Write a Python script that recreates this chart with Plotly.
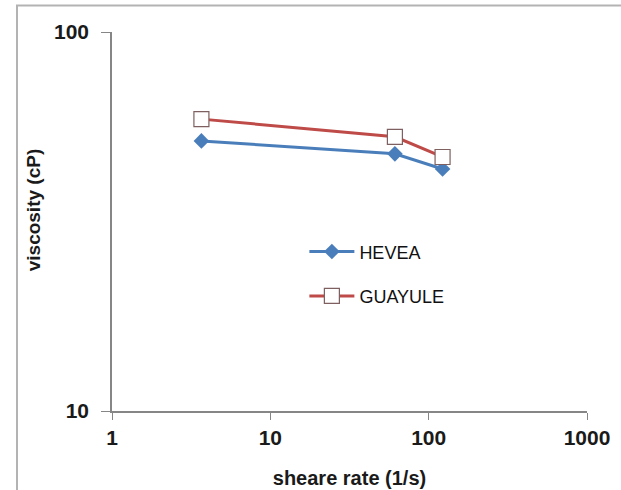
import plotly.graph_objects as go

shear_rate = [3.67, 61.2, 122.4]
hevea = [51.6, 47.7, 43.5]
guayule = [58.9, 52.9, 46.8]
x_ticks = [1, 10, 100, 1000]
y_ticks = [10, 100]

FONT = "Liberation Sans"

fig = go.Figure()
fig.add_trace(go.Scatter(
    x=shear_rate, y=hevea, name="HEVEA", mode="lines+markers", legendgroup="a",
    line=dict(color="#4a7ebb", width=3),
    marker=dict(symbol="diamond", size=12, color="#4a7ebb"),
))
fig.add_trace(go.Scatter(
    x=shear_rate, y=guayule, name="GUAYULE", mode="lines+markers", legendgroup="b",
    line=dict(color="#be4b48", width=3),
    marker=dict(symbol="square", size=15, color="white",
                line=dict(color="#7f6060", width=1.2)),
))

fig.update_layout(
    width=621, height=490,
    margin=dict(l=112, r=34, t=32, b=79),
    paper_bgcolor="white", plot_bgcolor="white",
    font=dict(family=FONT, color="#1a1a1a"),
    showlegend=True,
    legend=dict(x=0.405, y=0.362, xanchor="left", yanchor="middle",
                bgcolor="rgba(0,0,0,0)", font=dict(size=18, family=FONT, color="#111"),
                tracegroupgap=18, itemwidth=45),
    shapes=[dict(type="rect", xref="paper", yref="paper",
                 x0=-0.2, x1=1.2, y0=-0.3, y1=1.07,
                 line=dict(color="#b3b3b3", width=2))],
    annotations=[dict(text="<b>viscosity (cP)</b>", textangle=-90,
                      xref="paper", yref="paper", x=-0.166, y=0.53,
                      xanchor="center", yanchor="middle", showarrow=False,
                      font=dict(size=19, family=FONT, color="#1a1a1a"))],
)
fig.update_xaxes(
    type="log", range=[0, 3], tickvals=x_ticks, ticktext=[f"<b>{v}</b>" for v in x_ticks],
    showline=True, linecolor="#868686", linewidth=1.5, automargin=False,
    ticks="outside", ticklen=7, tickcolor="#868686",
    showgrid=False, zeroline=False,
    tickfont=dict(size=21, family=FONT, color="#1a1a1a"),
    title=dict(text="<b>sheare rate (1/s)</b>", font=dict(size=20, family=FONT), standoff=23),
)
fig.update_yaxes(
    type="log", range=[1, 2], tickvals=y_ticks, ticktext=[f"<b>{v}</b>" for v in y_ticks],
    showline=True, linecolor="#868686", linewidth=1.5, automargin=False,
    ticks="outside", ticklen=9, tickcolor="#868686", ticklabelstandoff=8,
    showgrid=True, gridcolor="#868686", gridwidth=1.5, zeroline=False,
    tickfont=dict(size=21, family=FONT, color="#1a1a1a"),
)

fig.write_html("out.html")
